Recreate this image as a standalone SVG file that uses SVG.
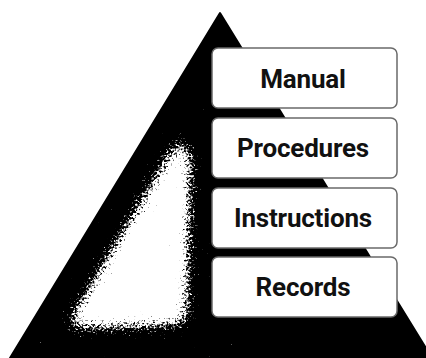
<svg xmlns="http://www.w3.org/2000/svg" width="426" height="358" viewBox="0 0 426 358">
  <style>
    .box { fill: #ffffff; stroke: #6a6a6a; stroke-width: 1.5; }
    .label { font-family: Roboto, "Liberation Sans", sans-serif; font-weight: 700; font-size: 26px; fill: #111111; text-anchor: middle; letter-spacing: -0.2px; }
  </style>
  <defs>
    <!-- speckled highlight: soft edge broken up by coarse noise, then thresholded -->
    <filter id="grain" x="-40%" y="-25%" width="180%" height="150%">
      <feGaussianBlur in="SourceAlpha" stdDeviation="9" result="soft"/>
      <feTurbulence type="fractalNoise" baseFrequency="0.45" numOctaves="2" seed="11" result="noise"/>
      <feColorMatrix in="noise" type="matrix" values="0 0 0 0 0  0 0 0 0 0  0 0 0 0 0  1 0 0 0 0" result="noiseA"/>
      <feComposite in="soft" in2="noiseA" operator="arithmetic" k1="0" k2="1.1" k3="1.2" k4="-0.65" result="mixed"/>
      <feComponentTransfer in="mixed" result="mask">
        <feFuncA type="linear" slope="4" intercept="-1.4"/>
      </feComponentTransfer>
      <feFlood flood-color="#ffffff" result="white"/>
      <feComposite in="white" in2="mask" operator="in"/>
    </filter>
  </defs>

  <rect width="426" height="358" fill="#ffffff"/>

  <!-- pyramid body -->
  <g id="pyramid">
    <polygon points="220,13 432,358 10,358" fill="#000000" stroke="#000000" stroke-width="2" stroke-linejoin="round"/>
    <polygon points="180,138 190,150 186,324 66,328" fill="#ffffff" filter="url(#grain)"/>
  </g>

  <g id="manual">
    <rect class="box" x="212" y="48" width="185" height="60" rx="6"/>
    <text class="label" x="303" y="88">Manual</text>
  </g>
  <g id="procedures">
    <rect class="box" x="212" y="118" width="185" height="60" rx="6"/>
    <text class="label" x="303" y="157">Procedures</text>
  </g>
  <g id="instructions">
    <rect class="box" x="212" y="188" width="185" height="60" rx="6"/>
    <text class="label" x="303" y="227">Instructions</text>
  </g>
  <g id="records">
    <rect class="box" x="212" y="257" width="185" height="60" rx="6"/>
    <text class="label" x="303" y="296">Records</text>
  </g>

  <g id="connectors"/>
</svg>
